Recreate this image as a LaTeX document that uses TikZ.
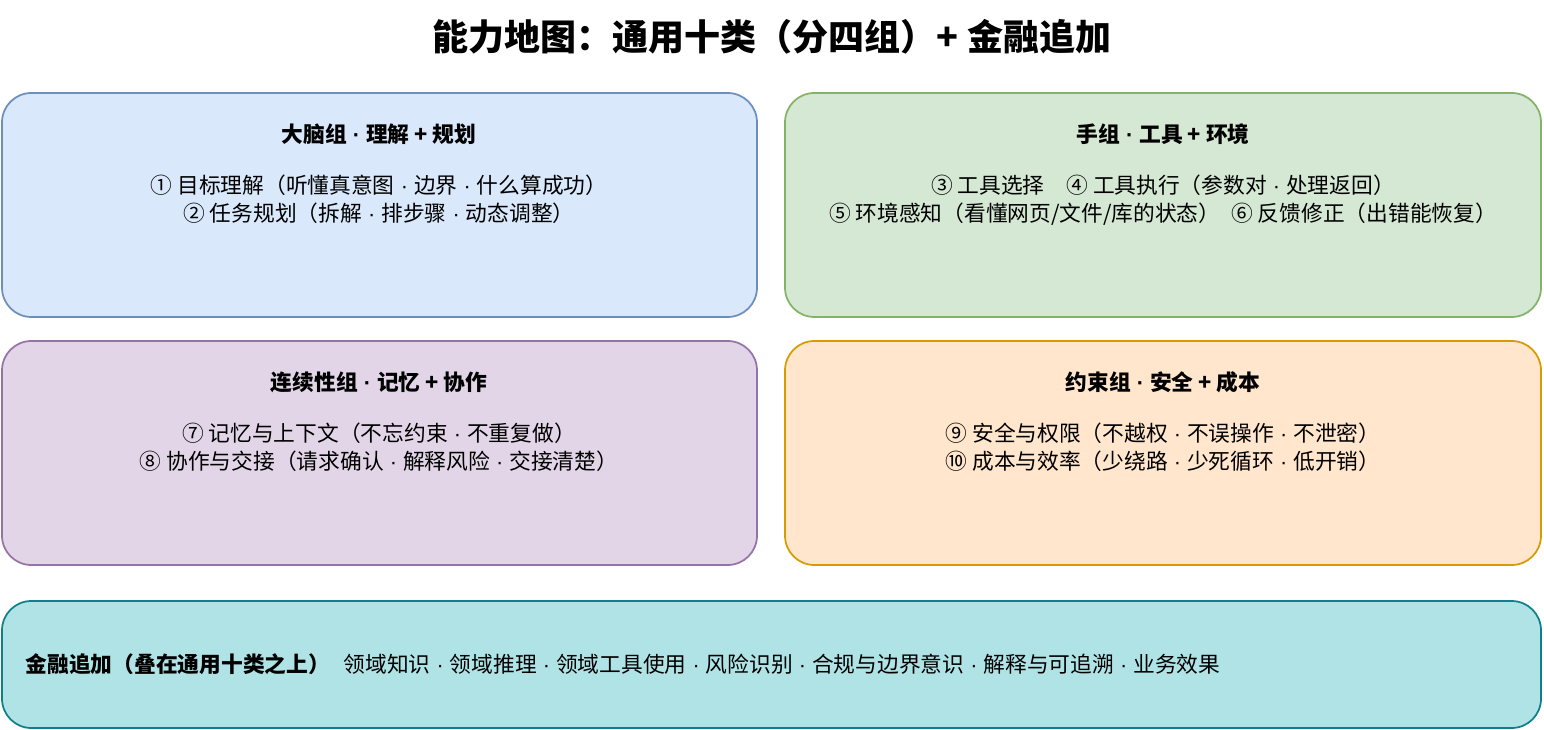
\documentclass[tikz,border=0pt]{standalone}
\usepackage{fontspec}
\setmainfont{Noto Sans CJK SC}
\newfontfamily\latf{Liberation Sans}
\newcommand{\md}{{\latf\ ·\ }}
\begin{document}
\begin{tikzpicture}[x=0.75pt,y=-0.75pt,
 box/.style={rounded corners=22pt,line width=1.3pt},
 hd/.style={font=\fontsize{16.3pt}{18pt}\selectfont\bfseries,anchor=center},
 bd/.style={font=\fontsize{16.3pt}{21pt}\selectfont,align=center,anchor=north}]
\definecolor{bf}{HTML}{DAE8FC}\definecolor{bs}{HTML}{6C8EBF}
\definecolor{gf}{HTML}{D5E8D4}\definecolor{gs}{HTML}{82B366}
\definecolor{pf}{HTML}{E1D5E7}\definecolor{ps}{HTML}{9673A6}
\definecolor{of}{HTML}{FFE6CC}\definecolor{os}{HTML}{D79B00}
\definecolor{tf}{HTML}{B0E3E6}\definecolor{ts}{HTML}{0E8088}
\useasboundingbox (0,0) rectangle (1544,730);
\node[font=\fontsize{27pt}{30pt}\selectfont\bfseries] (title) at (772,37) {能力地图：通用十类（分四组）+ 金融追加};
\draw[box,fill=bf,draw=bs] (2,93) rectangle (757,317);
\draw[box,fill=gf,draw=gs] (785,93) rectangle (1541,317);
\draw[box,fill=pf,draw=ps] (2,341) rectangle (757,565);
\draw[box,fill=of,draw=os] (785,341) rectangle (1541,565);
\draw[box,fill=tf,draw=ts] (2,601) rectangle (1541,728);
\node[hd] (h1) at (379,134) {大脑组\md 理解 + 规划};
\node[bd] (b1) at (379,170) {① 目标理解（听懂真意图\md 边界\md 什么算成功）\\② 任务规划（拆解\md 排步骤\md 动态调整）};
\node[hd] (h2) at (1163,134) {手组\md 工具 + 环境};
\node[bd] (b2) at (1163,170) {③ 工具选择\quad ④ 工具执行（参数对\md 处理返回）\\⑤ 环境感知（看懂网页/文件/库的状态）\enspace ⑥ 反馈修正（出错能恢复）};
\node[hd] (h3) at (379,382) {连续性组\md 记忆 + 协作};
\node[bd] (b3) at (379,418) {⑦ 记忆与上下文（不忘约束\md 不重复做）\\⑧ 协作与交接（请求确认\md 解释风险\md 交接清楚）};
\node[hd] (h4) at (1163,382) {约束组\md 安全 + 成本};
\node[bd] (b4) at (1163,418) {⑨ 安全与权限（不越权\md 不误操作\md 不泄密）\\⑩ 成本与效率（少绕路\md 少死循环\md 低开销）};
\node[hd,anchor=west] (h5) at (21,664) {金融追加（叠在通用十类之上）};
\node[font=\fontsize{16.3pt}{18pt}\selectfont,anchor=west] (b5) at (339,664) {领域知识\md 领域推理\md 领域工具使用\md 风险识别\md 合规与边界意识\md 解释与可追溯\md 业务效果};
\end{tikzpicture}
\end{document}
